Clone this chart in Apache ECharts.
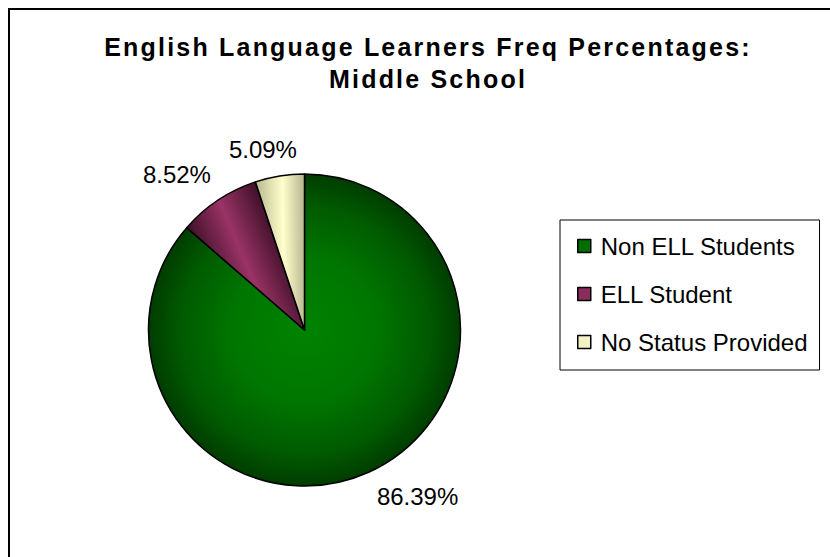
<!DOCTYPE html>
<html>
<head>
<meta charset="utf-8">
<title>English Language Learners Freq Percentages: Middle School</title>
<script src="https://cdn.jsdelivr.net/npm/echarts@6/dist/echarts.min.js"></script>
<style>
  html, body { margin: 0; padding: 0; background: #fff; }
  #chart { width: 830px; height: 557px; }
  /* the bold title is set with slightly open letter spacing */
  #chart text[style*="bold"] { letter-spacing: 2.2px; }
</style>
</head>
<body>
<div id="chart"></div>
<script>
// ---- data ----
const categories = ['Non ELL Students', 'ELL Student', 'No Status Provided'];
const percentages = [86.39, 8.52, 5.09];

// ---- styling ----
const FONT = '"Liberation Sans", Arial, Helvetica, sans-serif';

// per-slice fills (shaded like the original spreadsheet chart)
const sliceFills = [
  { type: 'radial', x: 0.5, y: 0.5, r: 0.5,
    colorStops: [
      { offset: 0, color: '#008200' },
      { offset: 0.45, color: '#007700' },
      { offset: 0.8, color: '#005a00' },
      { offset: 1, color: '#003c00' }
    ] },
  { type: 'linear', x: 0, y: 0.309, x2: 0.584, y2: 0,
    colorStops: [
      { offset: 0, color: '#3e1028' },
      { offset: 0.5, color: '#9a3366' },
      { offset: 1, color: '#3e1028' }
    ] },
  { type: 'linear', x: 0, y: 0.05, x2: 1, y2: 0,
    colorStops: [
      { offset: 0, color: '#b8b890' },
      { offset: 0.55, color: '#ffffcc' },
      { offset: 1, color: '#b4b48e' }
    ] }
];
const legendFills = ['#006e00', '#8a2c5c', '#f2f2c6'];

// outside label placement for each slice
const labelLineLen = [27.5, 31, 26.4];
const labelLineLen2 = [-3.7, -10.1, -21.5];

const pieData = categories.map((name, i) => ({
  name: name,
  value: percentages[i],
  itemStyle: { color: sliceFills[i] },
  labelLine: { show: false, length: labelLineLen[i], length2: labelLineLen2[i] }
}));

const chart = echarts.init(document.getElementById('chart'), null, { renderer: 'svg' });

chart.setOption({
  animation: false,
  backgroundColor: '#ffffff',
  title: {
    text: 'English Language Learners Freq Percentages:\nMiddle School',
    left: 428,
    top: 31,
    textAlign: 'center',
    padding: 0,
    textStyle: {
      fontFamily: FONT,
      fontSize: 25,
      fontWeight: 'bold',
      lineHeight: 32,
      color: '#000'
    }
  },
  legend: {
    orient: 'vertical',
    left: 560,
    top: 220,
    padding: [14, 12, 16, 17],
    itemGap: 24,
    itemWidth: 13,
    itemHeight: 13,
    icon: 'rect',
    backgroundColor: '#ffffff',
    borderColor: '#000',
    borderWidth: 1,
    borderRadius: 0,
    selectedMode: false,
    textStyle: {
      fontFamily: FONT,
      fontSize: 24,
      lineHeight: 24,
      color: '#000',
      padding: [0, 0, 0, 5]
    },
    data: categories.map((name, i) => ({
      name: name,
      itemStyle: { color: legendFills[i], borderColor: '#000', borderWidth: 1.5 }
    }))
  },
  graphic: [
    {
      type: 'rect',
      shape: { x: 9, y: 9, width: 900, height: 700 },
      style: { fill: 'none', stroke: '#000', lineWidth: 2 },
      silent: true,
      z: 0
    }
  ],
  series: [
    {
      type: 'pie',
      center: [304.5, 330],
      radius: 156,
      startAngle: 90,
      clockwise: true,
      avoidLabelOverlap: false,
      silent: true,
      itemStyle: { borderColor: '#000', borderWidth: 1.5 },
      label: {
        show: true,
        position: 'outside',
        distanceToLabelLine: 0,
        fontFamily: FONT,
        fontSize: 24,
        color: '#000',
        formatter: p => p.value.toFixed(2) + '%'
      },
      labelLine: { show: false },
      emphasis: { disabled: true },
      data: pieData
    }
  ]
});
</script>
</body>
</html>
